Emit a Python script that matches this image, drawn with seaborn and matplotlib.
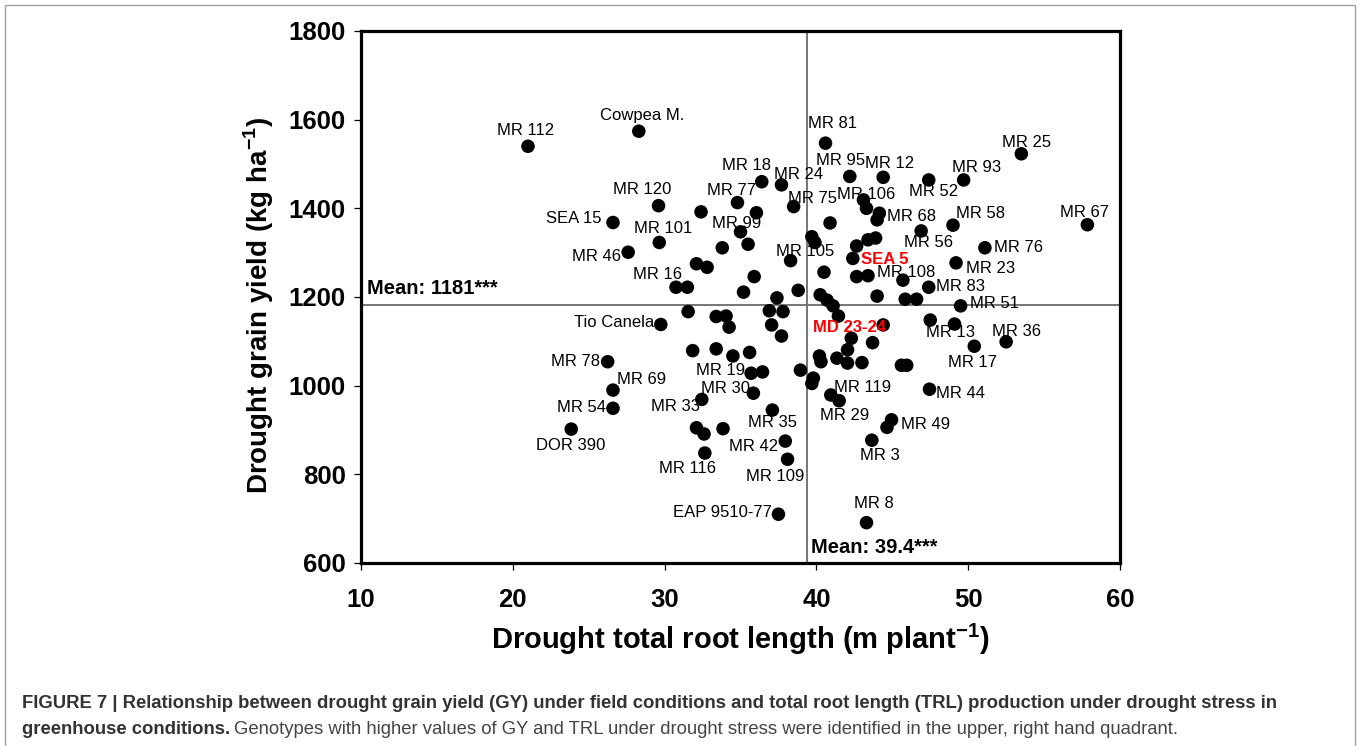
import pandas as pd
import seaborn as sns
import matplotlib.pyplot as plt
from matplotlib.patches import Rectangle

# drought total root length (m plant-1), drought grain yield (kg ha-1), genotype name ('' = no label)
trl = [21.0, 26.6, 28.3, 29.6, 32.4, 36.4, 37.7, 34.8, 36.05, 38.5,
       40.6, 42.2, 40.9, 29.65, 27.6, 35.0, 35.5, 33.8, 38.3, 39.7,
       39.9, 40.5, 32.1, 32.8, 30.75, 31.5, 35.9, 35.2, 37.4, 38.8,
       53.5, 44.4, 47.4, 49.7, 43.1, 43.3, 44.15, 44.0, 49.0, 57.85,
       46.9, 51.1, 49.2, 47.4, 49.5, 45.7, 45.85, 46.6, 44.0, 42.65,
       43.4, 43.9, 42.4, 42.65, 43.4, 40.25, 40.7, 41.1, 41.45, 36.9,
       37.8, 37.05, 37.7, 44.4, 47.5, 49.1, 42.3, 43.7, 42.05, 40.2,
       40.3, 41.35, 42.05, 43.0, 45.6, 45.95, 38.95, 39.8, 39.7, 47.45,
       40.95, 41.5, 44.95, 44.65, 43.65, 37.1, 37.95, 43.3, 52.5, 50.4,
       29.75, 31.55, 33.4, 34.05, 34.25, 31.85, 33.4, 34.5, 35.6, 35.7,
       36.45, 35.85, 32.45, 32.1, 32.6, 33.85, 32.65, 38.1, 37.5, 26.6,
       26.6, 26.25, 23.85]
gy = [1540, 1368, 1574, 1406, 1392, 1460, 1453, 1413, 1390, 1404,
      1547, 1472, 1367, 1323, 1301, 1347, 1319, 1311, 1282, 1336,
      1323, 1256, 1275, 1267, 1222, 1222, 1246, 1211, 1198, 1215,
      1523, 1470, 1464, 1464, 1419, 1400, 1389, 1374, 1362, 1363,
      1349, 1311, 1277, 1222, 1180, 1238, 1195, 1195, 1202, 1315,
      1329, 1333, 1287, 1246, 1248, 1205, 1193, 1180, 1157, 1169,
      1167, 1137, 1112, 1137, 1148, 1139, 1107, 1097, 1081, 1067,
      1054, 1062, 1051, 1052, 1046, 1046, 1035, 1017, 1005, 992,
      979, 966, 923, 906, 877, 945, 875, 691, 1099, 1089,
      1138, 1167, 1156, 1157, 1132, 1079, 1083, 1067, 1075, 1028,
      1031, 983, 969, 905, 891, 903, 848, 834, 710, 990,
      949, 1054, 902]
genotype = ["MR 112", "SEA 15", "Cowpea M.", "MR 120", "", "MR 18", "MR 24", "MR 77", "", "MR 75",
            "MR 81", "MR 95", "", "MR 101", "MR 46", "MR 99", "", "", "MR 105", "",
            "", "", "", "", "MR 16", "", "", "", "", "",
            "MR 25", "MR 12", "MR 52", "MR 93", "MR 106", "", "MR 68", "", "MR 58", "MR 67",
            "MR 56", "MR 76", "MR 23", "MR 83", "MR 51", "MR 108", "", "", "", "",
            "", "", "SEA 5", "", "", "", "", "", "", "",
            "", "", "", "MD 23-24", "", "MR 13", "", "", "", "",
            "", "", "", "", "", "", "", "", "", "MR 44",
            "MR 119", "MR 29", "MR 49", "", "MR 3", "MR 35", "MR 42", "MR 8", "MR 36", "MR 17",
            "Tio Canela", "", "", "", "", "", "", "", "", "MR 19",
            "", "MR 30", "MR 33", "", "", "", "MR 116", "MR 109", "EAP 9510-77", "MR 69",
            "MR 54", "MR 78", "DOR 390"]
trl_mean = 39.4
gy_mean = 1181
highlighted = ["SEA 5", "MD 23-24"]

# where each label sits relative to its dot, in pixels (right, up)
label_offset = {
    "MR 112": (-2, 16), "Cowpea M.": (3, 16), "MR 81": (7, 20), "MR 25": (5, 11),
    "MR 18": (-15, 16), "MR 24": (17, 10), "MR 95": (-9, 16), "MR 12": (6, 14),
    "MR 93": (13, 12), "MR 120": (-16, 16), "MR 77": (-6, 12), "MR 106": (3, 5),
    "MR 75": (19, 8), "MR 52": (5, -12), "MR 58": (27, 12), "MR 67": (-3, 12),
    "SEA 15": (-39, 4), "MR 101": (4, 14), "MR 99": (-4, 8), "MR 68": (32, -3),
    "MR 46": (-32, -4), "MR 105": (15, 9), "MR 56": (7, -12), "MR 76": (34, 0),
    "SEA 5": (32, -1), "MR 16": (-18, 13), "MR 108": (3, 8), "MR 23": (35, -6),
    "MR 83": (32, 1), "MR 51": (34, 2), "Tio Canela": (-47, 2), "MD 23-24": (-34, -3),
    "MR 13": (-4, -8), "MR 36": (10, 10), "MR 78": (-32, 0), "MR 17": (-2, -16),
    "MR 19": (-31, 3), "MR 69": (29, 11), "MR 119": (32, 7), "MR 30": (-28, 5),
    "MR 44": (31, -4), "MR 33": (-26, -7), "MR 54": (-31, 1), "MR 29": (5, -15),
    "MR 35": (0, -12), "MR 49": (34, -5), "DOR 390": (-1, -16), "MR 42": (-32, -5),
    "MR 3": (8, -15), "MR 116": (-17, -15), "MR 109": (-12, -17), "MR 8": (7, 19),
    "EAP 9510-77": (-56, 2),
}

df = pd.DataFrame({'trl': trl, 'gy': gy, 'genotype': genotype})

sns.set_style('ticks')
plt.rcParams['font.family'] = ['Liberation Sans', 'DejaVu Sans']
plt.rcParams['mathtext.fontset'] = 'custom'
plt.rcParams['mathtext.rm'] = 'Liberation Sans'
plt.rcParams['mathtext.bf'] = 'Liberation Sans:bold'
plt.rcParams['text.color'] = 'black'
plt.rcParams['axes.labelcolor'] = 'black'
plt.rcParams['xtick.color'] = 'black'
plt.rcParams['ytick.color'] = 'black'

fig = plt.figure(figsize=(13.6, 7.46), dpi=100)
ax = fig.add_axes([361 / 1360, 1 - 563 / 746, 759 / 1360, 532 / 746])

ax.axhline(gy_mean, color='#6a6a6a', lw=1.3, zorder=1)
ax.axvline(trl_mean, color='#6a6a6a', lw=1.3, zorder=1)

sns.scatterplot(data=df, x='trl', y='gy', color='black', s=95, edgecolor='none',
                ax=ax, zorder=3, legend=False)

for _, row in df[df['genotype'] != ''].iterrows():
    name = row['genotype']
    hl = name in highlighted
    ax.annotate(name, (row['trl'], row['gy']), xytext=label_offset[name],
                textcoords='offset pixels', ha='center', va='center',
                fontsize=12, color='red' if hl else 'black',
                fontweight='bold' if hl else 'normal', zorder=4)

ax.text(10.4, 1220, f'Mean: {gy_mean}***', fontsize=14.5, fontweight='bold', va='center', zorder=4)
ax.text(39.62, 636, f'Mean: {trl_mean}***', fontsize=14.5, fontweight='bold', va='center', zorder=4)

ax.set_xlim(10, 60)
ax.set_ylim(600, 1800)
ax.set_xticks(range(10, 61, 10))
ax.set_yticks(range(600, 1801, 200))
for s in ax.spines.values():
    s.set_visible(True)
    s.set_linewidth(2.3)
    s.set_color('black')
ax.tick_params(axis='both', direction='out', length=5, width=0.9, color='black',
               labelcolor='black', labelsize=18.5)
ax.tick_params(axis='x', pad=13)
ax.tick_params(axis='y', pad=6)
for lab in ax.get_xticklabels() + ax.get_yticklabels():
    lab.set_fontweight('bold')

ax.set_xlabel(r'Drought total root length (m plant$^{\mathbf{-1}}$)', fontsize=21,
              fontweight='bold', va='center', color='black')
ax.xaxis.set_label_coords(0.5, (563 - 639) / 532)
ax.set_ylabel(r'Drought grain yield (kg ha$^{\mathbf{-1}}$)', fontsize=20,
              fontweight='bold', va='center', color='black')
ax.yaxis.set_label_coords((259 - 361) / 759, (563 - 306) / 532)

# outer frame of the figure panel
fig.patches.append(Rectangle((5 / 1360, -0.02), 1350 / 1360, 1.02 - 5 / 746,
                             transform=fig.transFigure, fill=False,
                             edgecolor='#a0a0a0', lw=1))

# caption
cap1 = ('FIGURE 7 | Relationship between drought grain yield (GY) under field conditions '
        'and total root length (TRL) production under drought stress in')
cap2b = 'greenhouse conditions.'
cap2 = ('Genotypes with higher values of GY and TRL under drought stress were identified '
        'in the upper, right hand quadrant.')
fig.canvas.draw()
r = fig.canvas.get_renderer()
t1 = fig.text(22 / 1360, 1 - 704 / 746, cap1, fontsize=12, fontweight='bold',
              color='#333333', va='center', ha='left')
w = t1.get_window_extent(r).width
fs = 12 * 1256 / w
t1.set_fontsize(fs)
t2 = fig.text(22 / 1360, 1 - 729 / 746, cap2b, fontsize=fs, fontweight='bold',
              color='#333333', va='center', ha='left')
x2 = t2.get_window_extent(r).x1
fig.text((x2 + 0.3 * fs) / 1360, 1 - 729 / 746, cap2, fontsize=fs,
         color='#444444', va='center', ha='left')

fig.savefig('out.png', dpi=100)
